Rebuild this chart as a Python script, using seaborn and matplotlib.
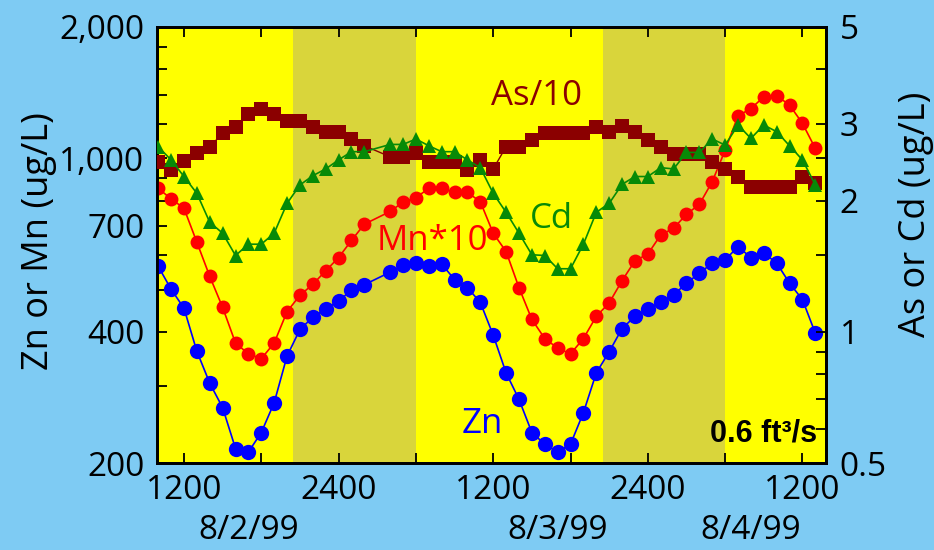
import numpy as np
import pandas as pd
import matplotlib
matplotlib.use("Agg")
import matplotlib.pyplot as plt
import matplotlib.ticker as mticker
import matplotlib.transforms as mtransforms
import seaborn as sns

# ---------------- data ----------------
hours = [10, 11, 12, 13, 14, 15, 16, 17, 18, 19, 20, 21, 22, 23, 24, 25, 26,
         28, 29, 30, 31, 32, 33, 34, 35, 36, 37, 38, 39, 40, 41, 42, 43, 44,
         45, 46, 47, 48, 49, 50, 51, 52, 53, 54, 55, 56, 57, 58, 59, 60, 61]

zn = [565, 501, 453, 361, 305, 268, 216, 212, 235, 275, 352, 405, 432, 452,
      471, 498, 513, 548, 568, 575, 565, 572, 527, 505, 467, 393, 322, 280,
      235, 221, 212, 221, 261, 322, 360, 407, 434, 452, 468, 486, 517, 545,
      575, 585, 627, 592, 606, 575, 517, 474, 397]

mn_x10 = [853, 807, 768, 642, 536, 455, 377, 356, 347, 377, 445, 485, 514,
          552, 592, 648, 706, 755, 793, 812, 853, 853, 835, 835, 795, 673,
          611, 505, 427, 386, 367, 356, 386, 434, 466, 524, 582, 603, 667,
          691, 744, 784, 884, 1044, 1251, 1300, 1383, 1391, 1324, 1202, 1053]

as_div10 = [2.455, 2.35, 2.464, 2.565, 2.657, 2.85, 2.952, 3.15, 3.25, 3.15,
            3.04, 3.04, 2.952, 2.866, 2.866, 2.767, 2.67, 2.52, 2.52, 2.565,
            2.455, 2.455, 2.455, 2.35, 2.478, 2.363, 2.657, 2.657, 2.75, 2.85,
            2.85, 2.85, 2.85, 2.952, 2.866, 2.97, 2.866, 2.75, 2.657, 2.551,
            2.551, 2.551, 2.455, 2.363, 2.27, 2.152, 2.152, 2.152, 2.152,
            2.27, 2.19]

cd = [2.657, 2.478, 2.27, 2.077, 1.783, 1.683, 1.496, 1.588, 1.588, 1.683,
      1.97, 2.171, 2.28, 2.363, 2.478, 2.588, 2.588, 2.689, 2.689, 2.767,
      2.67, 2.588, 2.588, 2.478, 2.379, 2.077, 1.879, 1.683, 1.502, 1.496,
      1.395, 1.395, 1.588, 1.879, 1.97, 2.178, 2.27, 2.27, 2.379, 2.363,
      2.578, 2.578, 2.767, 2.68, 2.979, 2.776, 2.979, 2.876, 2.67, 2.478,
      2.171]

night_spans = [(20.5, 30.0), (44.5, 54.0)]

x_ticks = [12, 24, 36, 48, 60]
x_tick_labels = ["1200", "2400", "1200", "2400", "1200"]
x_minor = [18, 30, 42, 54]
date_pos = [17, 41, 56]
date_labels = ["8/2/99", "8/3/99", "8/4/99"]

left_ticks = [200, 400, 700, 1000, 2000]
left_labels = ["200", "400", "700", "1,000", "2,000"]
left_minor = [300, 500, 600, 800, 900, 1200, 1400, 1600, 1800]
right_ticks = [0.5, 1, 2, 3, 5]
right_labels = ["0.5", "1", "2", "3", "5"]
right_minor = [0.6, 0.7, 0.8, 0.9, 1.5, 2.5, 4]

df = pd.DataFrame({"t": hours, "zn": zn, "mn": mn_x10, "as": as_div10, "cd": cd})

# ---------------- style ----------------
sns.set_style("ticks")
plt.rcParams["font.family"] = ["Open Sans", "DejaVu Sans"]
for k in ("text.color", "axes.labelcolor", "xtick.color", "ytick.color",
          "xtick.labelcolor", "ytick.labelcolor"):
    plt.rcParams[k] = "black"

BG = "#7ECBF3"
YEL = "#FFFF00"
NIGHT = "#D9D53B"
BLUE = "#0000FF"
RED = "#FF0000"
GREEN = "#078A07"
DRED = "#8B0000"

fig = plt.figure(figsize=(9.34, 5.5), dpi=100, facecolor=BG)
ax = fig.add_axes([0.168, 0.158, 0.716, 0.793])
ax.set_facecolor(YEL)

for a, b in night_spans:
    ax.axvspan(a, b, color=NIGHT, lw=0, zorder=0)

sns.lineplot(data=df, x="t", y="mn", ax=ax, color=RED, marker="o",
             markersize=10, markeredgewidth=0, linewidth=1.2, zorder=3)
sns.lineplot(data=df, x="t", y="zn", ax=ax, color=BLUE, marker="o",
             markersize=11, markeredgewidth=0, linewidth=1.2, zorder=3)

ax.set_yscale("log")
ax.set_ylim(200, 2000)
ax.set_xlim(9.9, 61.8)
ax.yaxis.set_major_locator(mticker.FixedLocator(left_ticks))
ax.yaxis.set_major_formatter(mticker.FixedFormatter(left_labels))
ax.yaxis.set_minor_locator(mticker.FixedLocator(left_minor))
ax.yaxis.set_minor_formatter(mticker.NullFormatter())
ax.xaxis.set_major_locator(mticker.FixedLocator(x_ticks))
ax.xaxis.set_major_formatter(mticker.FixedFormatter(x_tick_labels))
ax.xaxis.set_minor_locator(mticker.FixedLocator(x_minor))

ax2 = ax.twinx()
ax2.patch.set_visible(False)
sns.lineplot(data=df, x="t", y="as", ax=ax2, color=DRED, marker="s",
             markersize=10, markeredgewidth=0, linewidth=1.0, zorder=3)
sns.lineplot(data=df, x="t", y="cd", ax=ax2, color=GREEN, marker="^",
             markersize=10.5, markeredgewidth=0, linewidth=1.2, zorder=4)
ax2.set_yscale("log")
ax2.set_ylim(0.5, 5)
ax2.set_xlim(9.9, 61.8)
ax2.yaxis.set_major_locator(mticker.FixedLocator(right_ticks))
ax2.yaxis.set_major_formatter(mticker.FixedFormatter(right_labels))
ax2.yaxis.set_minor_locator(mticker.FixedLocator(right_minor))
ax2.yaxis.set_minor_formatter(mticker.NullFormatter())

fs = 24
for a in (ax, ax2):
    for s in a.spines.values():
        s.set_linewidth(2)
        s.set_color("black")
        s.set_visible(True)
    a.set_xlabel("")

ax.tick_params(axis="both", which="both", direction="in", length=7,
               width=1.3, color="black", labelsize=fs, top=True, right=False)
ax.tick_params(axis="y", which="both", pad=9)
ax.tick_params(axis="x", which="both", pad=8)
ax2.tick_params(axis="y", which="both", direction="in", length=7,
                width=1.3, color="black", labelsize=fs, pad=10)

ax.set_ylabel("Zn or Mn (ug/L)", fontsize=26)
ax.yaxis.set_label_coords(-0.15, 0.51)
ax2.set_ylabel("As or Cd (ug/L)", fontsize=26)
ax2.yaxis.set_label_coords(1.108, 0.571)

trans = mtransforms.blended_transform_factory(ax.transData, ax.transAxes)
for xp, lab in zip(date_pos, date_labels):
    ax.text(xp, -0.155, lab, transform=trans, ha="center", va="center",
            fontsize=fs, clip_on=False)

ax2.text(0.50, 0.821, "As/10", transform=ax2.transAxes, color=DRED,
         fontsize=25, ha="left", va="baseline", zorder=6)
ax2.text(0.558, 0.539, "Cd", transform=ax2.transAxes, color=GREEN,
         fontsize=25, ha="left", va="baseline", zorder=6)
ax2.text(0.329, 0.4885, "Mn*10", transform=ax2.transAxes, color=RED,
         fontsize=25, ha="left", va="baseline", zorder=6)
ax2.text(0.456, 0.069, "Zn", transform=ax2.transAxes, color=BLUE,
         fontsize=25, ha="left", va="baseline", zorder=6)
ax2.text(0.987, 0.0505, "0.6 ft³/s", transform=ax2.transAxes, color="black",
         fontsize=22, fontweight="bold", family=["Liberation Sans", "DejaVu Sans"],
         ha="right", va="baseline", zorder=6)

fig.savefig("out.png", dpi=100, facecolor=BG)
